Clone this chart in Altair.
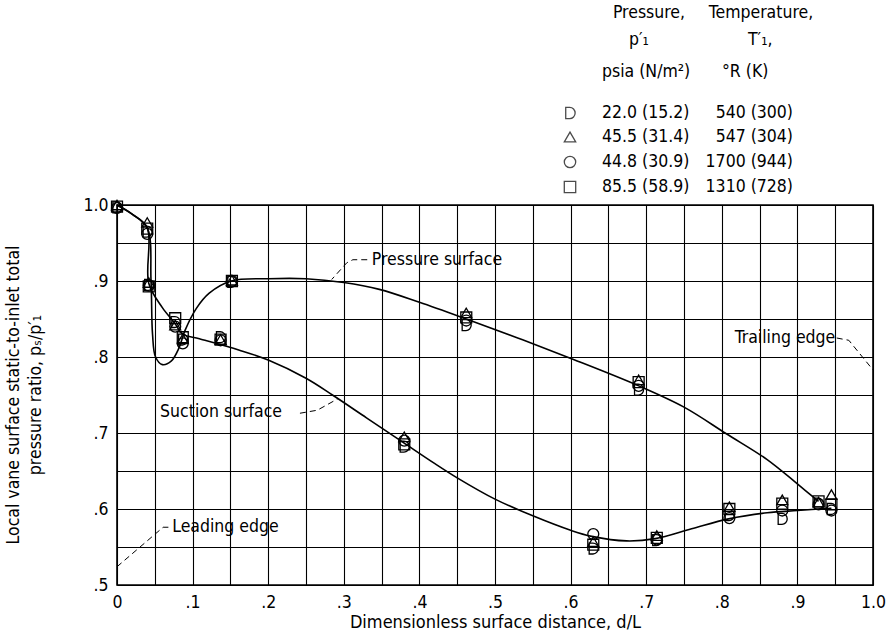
import altair as alt
import pandas as pd

FONT = "Liberation Sans Narrow, DejaVu Sans Condensed, Roboto Condensed, Arial Narrow, sans-serif"

# ---------------- data ----------------
series = ["22.0 (15.2)", "45.5 (31.4)", "44.8 (30.9)", "85.5 (58.9)"]
temps = ["540 (300)", "547 (304)", "1700 (944)", "1310 (728)"]
D_PATH = "M-0.75,-1 L-0.05,-1 A0.95,1 0 0 1 -0.05,1 L-0.75,1 Z"
shapes = [D_PATH, "triangle-up", "circle", "square"]

stations = [0.0, 0.040, 0.042, 0.077, 0.087, 0.137, 0.152, 0.380, 0.462,
            0.630, 0.690, 0.714, 0.810, 0.880, 0.928, 0.945]
ratio_22 = [0.997, 0.965, 0.895, 0.846, 0.823, 0.826, 0.899, 0.682, 0.842,
            0.548, 0.757, 0.559, 0.592, 0.587, 0.607, 0.600]
ratio_45 = [1.000, 0.977, 0.898, 0.842, 0.824, 0.823, 0.901, 0.695, 0.858,
            0.557, 0.770, 0.565, 0.603, 0.612, 0.609, 0.619]
ratio_44 = [0.996, 0.962, 0.894, 0.840, 0.818, 0.822, 0.900, 0.690, 0.848,
            0.567, 0.762, 0.560, 0.588, 0.598, 0.606, 0.598]
ratio_85 = [0.998, 0.969, 0.893, 0.851, 0.826, 0.823, 0.900, 0.685, 0.852,
            0.553, 0.767, 0.562, 0.600, 0.607, 0.610, 0.606]

# faired curves
pressure_x = [0.0, 0.020, 0.040, 0.045, 0.047, 0.051, 0.060, 0.072, 0.082, 0.090,
              0.105, 0.122, 0.151, 0.200, 0.250, 0.300, 0.347, 0.400, 0.462,
              0.530, 0.603, 0.690, 0.750, 0.806, 0.860, 0.900, 0.928]
pressure_y = [1.000, 0.988, 0.970, 0.900, 0.830, 0.800, 0.790, 0.795, 0.812, 0.835,
              0.864, 0.884, 0.900, 0.903, 0.903, 0.898, 0.889, 0.872, 0.850,
              0.825, 0.797, 0.762, 0.734, 0.699, 0.665, 0.633, 0.610]
suction_x = [0.0, 0.020, 0.040, 0.042, 0.060, 0.076, 0.087, 0.109, 0.162, 0.200,
             0.250, 0.285, 0.330, 0.378, 0.420, 0.450, 0.500, 0.550, 0.600, 0.628,
             0.674, 0.712, 0.760, 0.809, 0.860, 0.900, 0.945]
suction_y = [1.000, 0.988, 0.970, 0.897, 0.865, 0.845, 0.830, 0.824, 0.809, 0.796,
             0.772, 0.750, 0.720, 0.688, 0.660, 0.641, 0.613, 0.591, 0.572, 0.564,
             0.558, 0.561, 0.574, 0.587, 0.595, 0.598, 0.601]

# annotation text and leader lines (data coordinates)
note_text = ["Pressure surface", "Suction surface", "Trailing edge", "Leading edge"]
note_x = [0.337, 0.057, 0.817, 0.073]
note_y = [0.928, 0.728, 0.825, 0.576]
leader_id = ["p", "p", "p", "p", "s", "s", "s", "t", "t", "t", "l", "l", "l"]
leader_x = [0.331, 0.312, 0.304, 0.284, 0.242, 0.265, 0.292, 0.952, 0.968, 1.0, 0.0, 0.061, 0.071]
leader_y = [0.928, 0.928, 0.924, 0.902, 0.726, 0.730, 0.745, 0.825, 0.822, 0.783, 0.524, 0.576, 0.576]

# ---------------- tables ----------------
rows = []
for s, vals in zip(series, [ratio_22, ratio_45, ratio_44, ratio_85]):
    for xv, yv in zip(stations, vals):
        rows.append({"series": s, "d": xv, "ratio": yv})
points = pd.DataFrame(rows)

curves = pd.DataFrame(
    [{"curve": "pressure", "i": i, "d": a, "ratio": b} for i, (a, b) in enumerate(zip(pressure_x, pressure_y))]
    + [{"curve": "suction", "i": i, "d": a, "ratio": b} for i, (a, b) in enumerate(zip(suction_x, suction_y))]
)
notes = pd.DataFrame({"text": note_text, "d": note_x, "ratio": note_y})
leaders = pd.DataFrame({"id": leader_id, "i": list(range(len(leader_id))), "d": leader_x, "ratio": leader_y})

grid_vals = [round(i * 0.05, 2) for i in range(21)]
grid_vals_y = [round(0.5 + i * 0.05, 2) for i in range(11)]

xs = alt.Scale(domain=[0, 1], nice=False, zero=False)
ys = alt.Scale(domain=[0.5, 1.0], nice=False, zero=False)

x_axis = alt.Axis(values=grid_vals, grid=True, ticks=False, domain=False,
                  labelOverlap=False, labelFlush=False, labelPadding=8,
                  labelExpr="round(datum.value*100) % 10 != 0 ? '' : (datum.value == 0 ? '0' : (datum.value > 0.99 ? '1.0' : '.' + round(datum.value*10)))",
                  title="Dimensionless surface distance, d/L", titlePadding=3)
y_axis = alt.Axis(values=grid_vals_y, grid=True, ticks=False, domain=False,
                  labelOverlap=False, labelFlush=False, labelPadding=9,
                  labelExpr="round(datum.value*100) % 10 != 0 ? '' : (datum.value > 0.99 ? '1.0' : '.' + round(datum.value*10))",
                  title=None)

X = lambda: alt.X("d:Q", scale=xs, axis=x_axis)
Y = lambda: alt.Y("ratio:Q", scale=ys, axis=y_axis)

lines = alt.Chart(curves).mark_line(interpolate="catmull-rom", color="black", strokeWidth=1.6).encode(
    x=X(), y=Y(), order="i:Q", detail="curve:N")

pts = alt.Chart(points).mark_point(filled=False, color="black", strokeWidth=1.3, size=120, opacity=1).encode(
    x=X(), y=Y(),
    shape=alt.Shape("series:N", scale=alt.Scale(domain=series, range=shapes), legend=None))

lead = alt.Chart(leaders).mark_line(color="black", strokeWidth=1, strokeDash=[6, 4]).encode(
    x=X(), y=Y(), order="i:Q", detail="id:N")

txt = alt.Chart(notes).mark_text(align="left", baseline="middle", font=FONT, fontSize=17.5, color="black").encode(
    x=X(), y=Y(), text="text:N")

layers = [lines, lead, pts, txt]

# y-axis title (two lines)
ytitle = ["Local vane surface static-to-inlet total", "pressure ratio, pₛ/p′₁"]
for t, px in zip(ytitle, [-103, -81]):
    layers.append(alt.Chart(pd.DataFrame({"t": [t]})).mark_text(
        angle=270, align="center", baseline="middle", font=FONT, fontSize=17.5, color="black").encode(
        x=alt.value(px), y=alt.value(190), text="t:N"))

# legend block (pixel positions relative to the plot area)
head = [("Pressure,", 532, -192, "center"), ("Temperature,", 644, -192, "center"),
        ("p′₁", 512, -165, "left"), ("T′₁,", 631, -165, "left"),
        ("psia (N/m²)", 485, -133, "left"), ("°R (K)", 605, -133, "left")]
for t, px, py, al in head:
    layers.append(alt.Chart(pd.DataFrame({"t": [t]})).mark_text(
        align=al, baseline="middle", font=FONT, fontSize=17.5, color="black").encode(
        x=alt.value(px), y=alt.value(py), text="t:N"))

row_y = [-92, -68, -43, -18]
for s, tt, shp, py in zip(series, temps, shapes, row_y):
    layers.append(alt.Chart(pd.DataFrame({"t": [s]})).mark_point(
        shape=shp, filled=False, color="black", strokeWidth=1.3, size=130).encode(
        x=alt.value(453), y=alt.value(py)))
    layers.append(alt.Chart(pd.DataFrame({"t": [s]})).mark_text(
        align="left", baseline="middle", font=FONT, fontSize=17.5, color="black").encode(
        x=alt.value(485), y=alt.value(py), text="t:N"))
    layers.append(alt.Chart(pd.DataFrame({"t": [tt]})).mark_text(
        align="right", baseline="middle", font=FONT, fontSize=17.5, color="black").encode(
        x=alt.value(676), y=alt.value(py), text="t:N"))

chart = alt.layer(*layers).properties(
    width=756, height=380,
    autosize=alt.AutoSizeParams(type="none"),
    padding={"left": 117, "top": 205, "right": 22, "bottom": 59},
    background="white",
).configure_view(stroke="black", strokeWidth=1.6).configure_axis(
    gridColor="black", gridWidth=1.1, gridOpacity=1,
    labelFont=FONT, labelFontSize=17.5, labelColor="black",
    titleFont=FONT, titleFontSize=18, titleColor="black", titleFontWeight="normal",
)

chart.save("out.html", embed_options={"renderer": "svg", "actions": False})
